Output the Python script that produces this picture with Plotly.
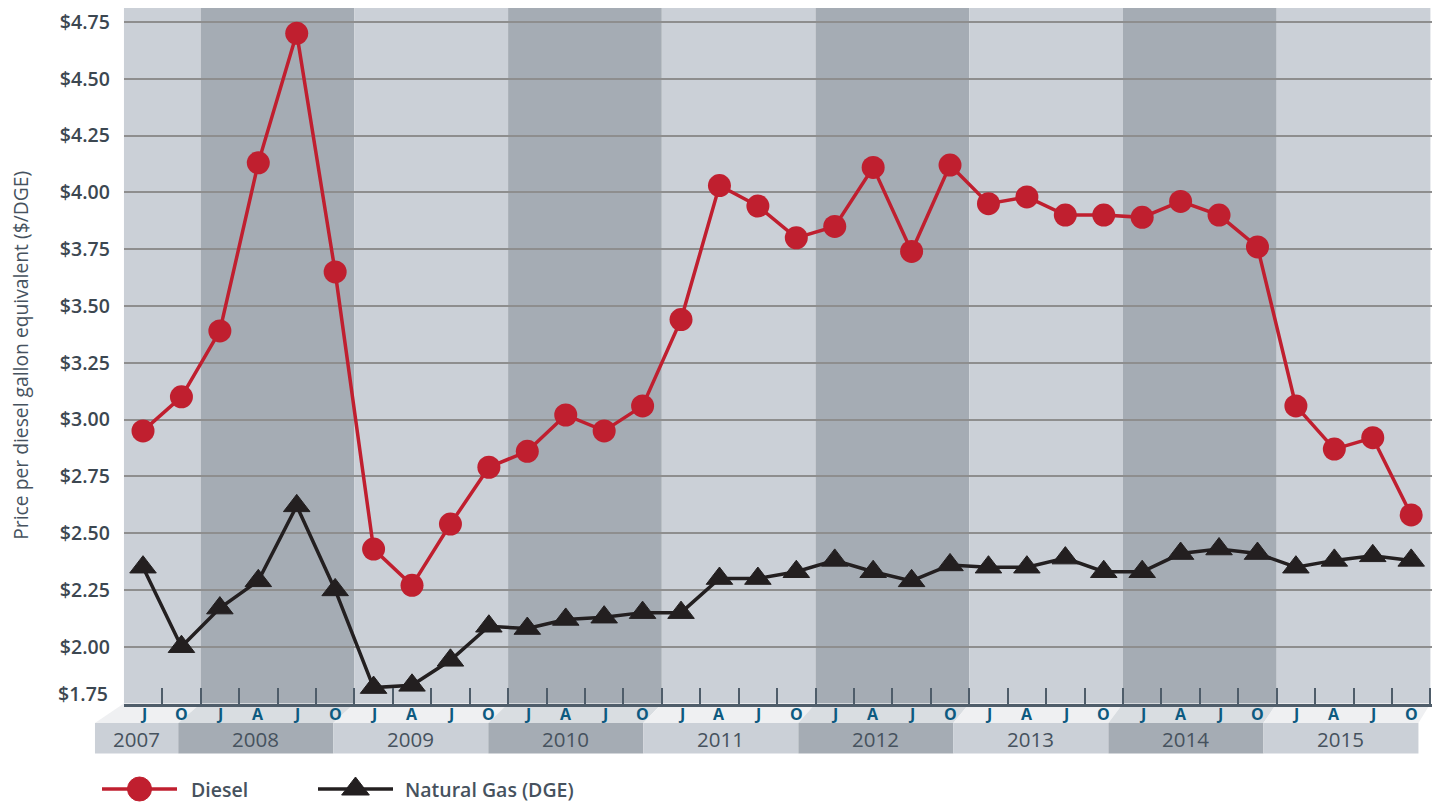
import plotly.graph_objects as go

W, H = 1441, 804

# ---------------- data ----------------
years = ["2007", "2008", "2009", "2010", "2011", "2012", "2013", "2014", "2015"]
months_per_year = [["J", "O"]] + [["J", "A", "J", "O"]] * 8
month_labels = [m for ms in months_per_year for m in ms]

diesel = [2.95, 3.10, 3.39, 4.13, 4.70, 3.65,
          2.43, 2.27, 2.54, 2.79,
          2.86, 3.02, 2.95, 3.06,
          3.44, 4.03, 3.94, 3.80,
          3.85, 4.11, 3.74, 4.12,
          3.95, 3.98, 3.90, 3.90,
          3.89, 3.96, 3.90, 3.76,
          3.06, 2.87, 2.92, 2.58]

natural_gas = [2.35, 2.00, 2.17, 2.29, 2.62, 2.25,
               1.82, 1.83, 1.94, 2.09,
               2.08, 2.12, 2.13, 2.15,
               2.15, 2.30, 2.30, 2.33,
               2.38, 2.33, 2.29, 2.36,
               2.35, 2.35, 2.39, 2.33,
               2.33, 2.41, 2.43, 2.41,
               2.35, 2.38, 2.40, 2.38]

y_ticks = [1.75, 2.00, 2.25, 2.50, 2.75, 3.00, 3.25, 3.50, 3.75, 4.00, 4.25, 4.50, 4.75]
y_tick_text = ["$%.2f" % v for v in y_ticks]

# ---------------- styling ----------------
RED = "#c01f2f"
BLACK = "#231f20"
BAND_LIGHT = "#cbd0d7"
BAND_DARK = "#a5acb4"
MONTH_LIGHT = "#eff0f2"
MONTH_DARK = "#d9dde1"
TEXT = "#46525e"
TICK_TXT = "#3c4751"
MONTH_TXT = "#0d5a80"
FONT = "Open Sans"

# pixel geometry
PL, PR, PT, PB = 123.8, 1432.0, 8.0, 703.5
MONTH_BOTTOM = 723.0
YEAR_BOTTOM = 753.5
X_MIN = -0.5
X_MAX = len(diesel) - 0.5 + (PR - 1430.4) / 38.43


def py(p):
    return 1 - p / H


def px(p):
    return p / W


def xpix(v):
    """data x -> pixel, used for the decorative strips below the axis"""
    return PL + (v - X_MIN) * (PR - PL) / (X_MAX - X_MIN)


x = list(range(len(diesel)))

fig = go.Figure()

fig.add_trace(go.Scatter(
    x=x, y=natural_gas, mode="lines+markers", name="Natural Gas (DGE)",
    line=dict(color=BLACK, width=3.5),
    marker=dict(symbol="triangle-up", size=23, color=BLACK, line=dict(color=BLACK, width=1)),
    cliponaxis=False, showlegend=False, hoverinfo="y"))

fig.add_trace(go.Scatter(
    x=x, y=diesel, mode="lines+markers", name="Diesel",
    line=dict(color=RED, width=3.5),
    marker=dict(symbol="circle", size=23, color=RED),
    cliponaxis=False, showlegend=False, hoverinfo="y"))

shapes = []
annotations = []

# year bands, month strips and year blocks
start = -0.5
for k, (yr, ms) in enumerate(zip(years, months_per_year)):
    end = start + len(ms)
    dark = (k % 2 == 1)
    shapes.append(dict(type="rect", xref="x", yref="paper", x0=start, x1=end,
                       y0=py(PB), y1=py(PT), fillcolor=BAND_DARK if dark else BAND_LIGHT,
                       line=dict(width=0), layer="below"))
    s0 = 0.75 if k == 0 else 0.6 - 0.0085 * (start + 0.5)
    s1 = 0.6 - 0.0085 * (end + 0.5)
    a_top, b_top = px(xpix(start)), px(xpix(end))
    a_bot, b_bot = px(xpix(start - s0)), px(xpix(end - s1))
    path = "M %f,%f L %f,%f L %f,%f L %f,%f Z" % (
        a_top, py(PB), b_top, py(PB), b_bot, py(MONTH_BOTTOM), a_bot, py(MONTH_BOTTOM))
    shapes.append(dict(type="path", xref="paper", yref="paper", path=path,
                       fillcolor=MONTH_DARK if dark else MONTH_LIGHT, line=dict(width=0), layer="below"))
    shapes.append(dict(type="rect", xref="paper", yref="paper", x0=a_bot, x1=b_bot,
                       y0=py(YEAR_BOTTOM), y1=py(MONTH_BOTTOM),
                       fillcolor=BAND_DARK if dark else BAND_LIGHT, line=dict(width=0), layer="below"))
    annotations.append(dict(x=(a_bot + b_bot) / 2, y=py((MONTH_BOTTOM + YEAR_BOTTOM) / 2 + 1),
                            xref="paper", yref="paper", text=yr, showarrow=False,
                            font=dict(family=FONT, size=20.5, color=TEXT, weight=500),
                            xanchor="center", yanchor="middle"))
    start = end

# month labels
for i, m in enumerate(month_labels):
    annotations.append(dict(x=i, y=py((PB + MONTH_BOTTOM) / 2 + 1), xref="x", yref="paper",
                            text=m, showarrow=False,
                            font=dict(family=FONT, size=16, color=MONTH_TXT, weight=700),
                            xanchor="center", yanchor="middle"))

# lowest tick label sits a little above the axis line
annotations.append(dict(x=px(110), y=y_ticks[0], xref="paper", yref="y", yshift=10,
                        text=y_tick_text[0], showarrow=False,
                        font=dict(family=FONT, size=19.5, color=TICK_TXT, weight=600),
                        xanchor="right", yanchor="middle"))

# y-axis title
annotations.append(dict(x=px(21), y=py((PT + PB) / 2), xref="paper", yref="paper",
                        text="Price per diesel gallon equivalent ($/DGE)", textangle=-90,
                        showarrow=False, font=dict(family=FONT, size=19.3, color=TEXT, weight=500),
                        xanchor="center", yanchor="middle"))

# legend (drawn on an invisible pixel-space overlay axis)
LEG_Y = 789
legend_items = [("Diesel", RED, "circle", 102, 177, 189, 24),
                ("Natural Gas (DGE)", BLACK, "triangle-up", 318, 393, 403, 24)]
for name, col, sym, lx0, lx1, tx, msz in legend_items:
    fig.add_trace(go.Scatter(x=[lx0, lx1], y=[LEG_Y, LEG_Y], mode="lines",
                             line=dict(color=col, width=3.5), xaxis="x2", yaxis="y2",
                             showlegend=False, hoverinfo="skip", cliponaxis=False))
    fig.add_trace(go.Scatter(x=[(lx0 + lx1) / 2], y=[LEG_Y], mode="markers",
                             marker=dict(symbol=sym, size=msz, color=col, line=dict(color=col, width=1)),
                             xaxis="x2", yaxis="y2",
                             showlegend=False, hoverinfo="skip", cliponaxis=False))
    annotations.append(dict(x=px(tx), y=py(LEG_Y), xref="paper", yref="paper", text=name,
                            showarrow=False, font=dict(family=FONT, size=19.5, color=TEXT, weight=600),
                            xanchor="left", yanchor="middle"))

fig.update_layout(
    width=W, height=H,
    margin=dict(l=0, r=0, t=0, b=0),
    paper_bgcolor="white", plot_bgcolor="rgba(0,0,0,0)",
    showlegend=False,
    shapes=shapes, annotations=annotations,
    xaxis=dict(domain=[px(PL), px(PR)], range=[X_MIN, X_MAX],
               tickvals=[i - 0.5 for i in range(len(diesel) + 1)], ticktext=[""] * (len(diesel) + 1),
               ticks="inside", ticklen=16, tickwidth=2, tickcolor="#4f5d6a",
               showline=True, linecolor="#4f5d6a", linewidth=2.5, showgrid=False, zeroline=False,
               fixedrange=True),
    yaxis=dict(domain=[py(PB), py(PT)], range=[1.75, 4.75 + (22 - PT) / ((PB - 22) / 3.0)],
               tickvals=y_ticks, ticktext=[""] + y_tick_text[1:],
               tickfont=dict(family=FONT, size=19.5, color=TICK_TXT, weight=600),
               ticks="", ticklabelstandoff=13,
               showgrid=True, gridcolor="#8e8e8e", gridwidth=2, zeroline=False, showline=False,
               fixedrange=True),
    xaxis2=dict(domain=[0, 1], range=[0, W], visible=False, anchor="y2", fixedrange=True),
    yaxis2=dict(domain=[0, 1], range=[H, 0], visible=False, anchor="x2", fixedrange=True),
)

# make the page exactly the size of the figure: no body margin, no scrolling
page_css = ("var r=document.documentElement.style, b=document.body.style;"
            "r.margin='0'; r.padding='0'; r.overflow='hidden';"
            "b.margin='0'; b.padding='0'; b.overflow='hidden';")
fig.write_html("out.html", post_script=page_css, config={"displayModeBar": False})
